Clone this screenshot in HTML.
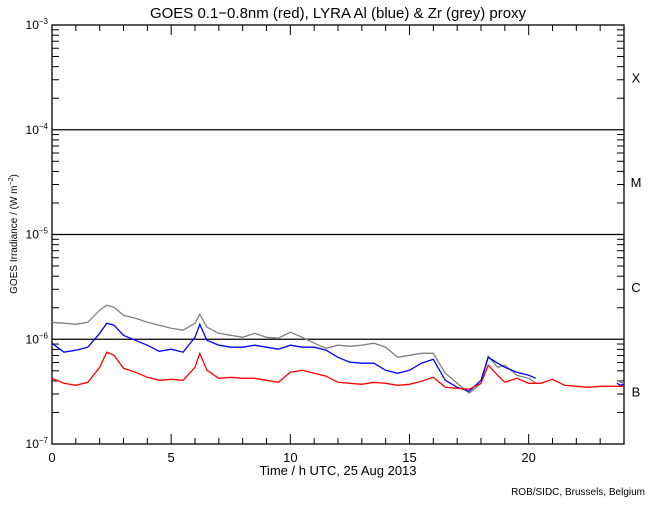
<!DOCTYPE html>
<html><head><meta charset="utf-8"><style>
body{margin:0;background:#fff;width:650px;height:500px;overflow:hidden}
svg text{font-family:"Liberation Sans",sans-serif;fill:#000}
</style></head><body>
<svg id="chart" width="650" height="500" viewBox="0 0 650 500">
<rect width="650" height="500" fill="#fff"/>
<text x="338" y="18" font-size="15" text-anchor="middle">GOES 0.1−0.8nm (red), LYRA Al (blue) &amp; Zr (grey) proxy</text>
<g id="axes"></g>
<g id="series"></g>
<text x="338" y="475" font-size="13" text-anchor="middle">Time / h UTC, 25 Aug 2013</text>
<text transform="translate(17,234) rotate(-90)" font-size="10" text-anchor="middle">GOES Irradiance / (W m<tspan dy="-4" font-size="7">−2</tspan><tspan dy="4">)</tspan></text>
<text x="645" y="495" font-size="10" text-anchor="end">ROB/SIDC, Brussels, Belgium</text>
</svg>
<script>
const hours=[0,0.5,1,1.5,2,2.3,2.6,3,3.5,4,4.5,5,5.5,6,6.2,6.5,7,7.5,8,8.5,9,9.5,10,10.5,11,11.5,12,12.5,13,13.5,14,14.5,15,15.5,16,16.5,17,17.5,18,18.3,18.7,19,19.5,20,20.5,21,21.5,22,22.5,23,23.5,24];
const goesRed=[-6.373,-6.421,-6.44,-6.411,-6.268,-6.124,-6.153,-6.277,-6.315,-6.363,-6.392,-6.382,-6.392,-6.268,-6.134,-6.296,-6.373,-6.363,-6.373,-6.373,-6.392,-6.411,-6.315,-6.296,-6.325,-6.353,-6.411,-6.421,-6.43,-6.411,-6.421,-6.44,-6.43,-6.401,-6.363,-6.459,-6.468,-6.477,-6.421,-6.248,-6.344,-6.411,-6.373,-6.421,-6.421,-6.382,-6.44,-6.449,-6.459,-6.449,-6.449,-6.449];
const lyraHours=[0,0.5,1,1.5,2,2.3,2.6,3,3.5,4,4.5,5,5.5,6,6.2,6.5,7,7.5,8,8.5,9,9.5,10,10.5,11,11.5,12,12.5,13,13.5,14,14.5,15,15.5,16,16.5,17,17.5,18,18.3,18.7,19,19.5,20,20.3];
const lyraAl=[-6.038,-6.124,-6.105,-6.076,-5.943,-5.847,-5.866,-5.962,-6.01,-6.057,-6.115,-6.095,-6.124,-5.981,-5.857,-6.01,-6.057,-6.076,-6.076,-6.057,-6.076,-6.095,-6.057,-6.076,-6.076,-6.105,-6.172,-6.219,-6.229,-6.229,-6.296,-6.325,-6.296,-6.229,-6.191,-6.392,-6.459,-6.497,-6.392,-6.172,-6.229,-6.268,-6.315,-6.344,-6.373];
const lyraZr=[-5.838,-5.847,-5.857,-5.838,-5.723,-5.675,-5.695,-5.771,-5.8,-5.838,-5.866,-5.895,-5.914,-5.847,-5.761,-5.885,-5.943,-5.962,-5.981,-5.943,-5.981,-5.99,-5.933,-5.981,-6.038,-6.086,-6.057,-6.067,-6.057,-6.038,-6.076,-6.172,-6.153,-6.134,-6.134,-6.325,-6.42,-6.516,-6.42,-6.162,-6.268,-6.248,-6.344,-6.373,-6.42];
const tailHours=[23.7,23.85,24];
const tailAl=[-6.42,-6.44,-6.43];
const tailZr=[-6.39,-6.41,-6.42];
const xTicks=[0,5,10,15,20];
const decades=[-3,-4,-5,-6,-7];
const classLabels=["X","M","C","B"];

const X0=52,X1=624,Y0=25,Y1=444;
const xs=h=>X0+(X1-X0)*h/24;
const ys=l=>Y0+(Y1-Y0)*(-3-l)/4;
const NS="http://www.w3.org/2000/svg";
function mk(tag,attrs,parent){const e=document.createElementNS(NS,tag);for(const k in attrs)e.setAttribute(k,attrs[k]);parent.appendChild(e);return e;}
const ax=document.getElementById('axes'),sg=document.getElementById('series');

let frame=mk('rect',{x:X0,y:Y0,width:X1-X0,height:Y1-Y0,fill:'none',stroke:'#000','stroke-width':1.3},ax);


decades.forEach(d=>{
  const y=ys(d);
  if(d<-3&&d>-7){const l=mk('line',{x1:X0,x2:X1,y1:y,y2:y,stroke:'#000','stroke-width':1.2},ax);
    
    }
  const t=mk('text',{x:X0-4,y:y+4,'font-size':12,'text-anchor':'end'},ax);
  
  
  t.innerHTML='10<tspan dy="-5" font-size="8">'+(d<0?'−':'')+Math.abs(d)+'</tspan>';
  if(d>-7){for(let m=2;m<=9;m++){const yy=ys(d-1+Math.log10(m));
    mk('line',{x1:X0,x2:X0+7,y1:yy,y2:yy,stroke:'#000'},ax);
    mk('line',{x1:X1,x2:X1-7,y1:yy,y2:yy,stroke:'#000'},ax);}}
});
for(let h=0;h<=24;h++){const x=xs(h),len=h%5===0?10:6;
  mk('line',{x1:x,x2:x,y1:Y1,y2:Y1-len,stroke:'#000'},ax);
  mk('line',{x1:x,x2:x,y1:Y0,y2:Y0+len,stroke:'#000'},ax);}
xTicks.forEach(h=>{const t=mk('text',{x:xs(h),y:Y1+18,'font-size':13,'text-anchor':'middle'},ax);
  
  
  t.textContent=h;});
classLabels.forEach((c,i)=>{const t=mk('text',{x:636,y:ys(-3.5-i)+5,'font-size':13,'text-anchor':'middle'},ax);
  
  
  t.textContent=c;});

function line(hs,vals,color,name){
  const p=mk('polyline',{points:hs.map((h,i)=>xs(h).toFixed(1)+','+ys(vals[i]).toFixed(1)).join(' '),fill:'none',stroke:color,'stroke-width':1.3},sg);
  
  
}
line(lyraHours,lyraZr,'#808080','lyra-zr-series');
line(tailHours,tailZr,'#808080','lyra-zr-tail');
line(lyraHours,lyraAl,'#0000ff','lyra-al-series');
line(tailHours,tailAl,'#0000ff','lyra-al-tail');
line(hours,goesRed,'#ff0000','goes-series');
</script>
</body></html>
